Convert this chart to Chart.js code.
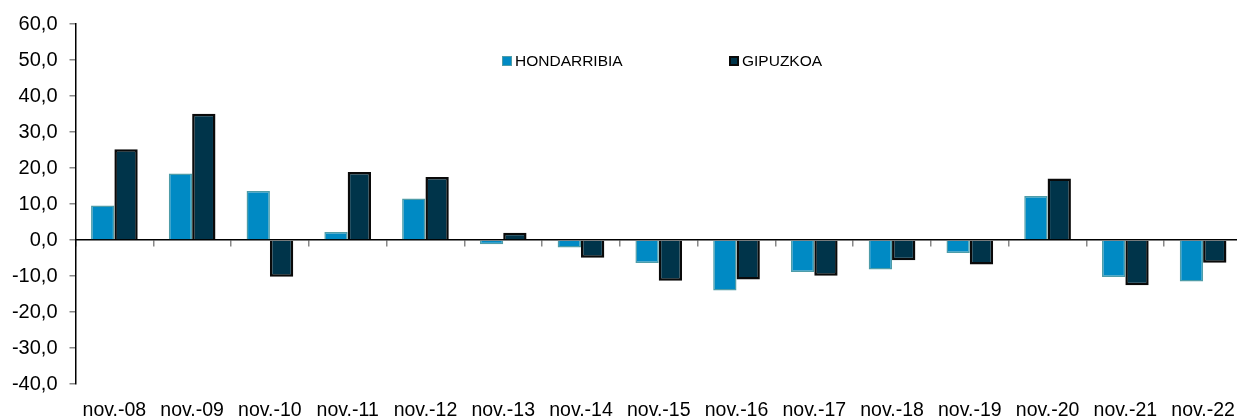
<!DOCTYPE html>
<html>
<head>
<meta charset="utf-8">
<script src="https://cdn.jsdelivr.net/npm/chart.js@4/dist/chart.umd.min.js"></script>
<style>
  html, body { margin: 0; padding: 0; background: #fff; overflow: hidden; }
  #wrap { position: relative; width: 1242px; height: 432px; }
  #legend { position: absolute; top: 0; left: 0; font-family: "Liberation Sans", Arial, sans-serif; font-size: 15.5px; color: #000; }
  .item { position: absolute; top: 52px; display: flex; align-items: center; white-space: nowrap; }
  .sw { width: 10px; height: 10px; box-sizing: border-box; margin-right: 3px; }
</style>
</head>
<body>
<div id="wrap">
  <canvas id="c" width="1242" height="432"></canvas>
  <div id="legend"></div>
</div>
<script>
const categories = ["nov.-08","nov.-09","nov.-10","nov.-11","nov.-12","nov.-13","nov.-14","nov.-15","nov.-16","nov.-17","nov.-18","nov.-19","nov.-20","nov.-21","nov.-22"];
const hondarribia = [9.6, 18.5, 13.6, 2.2, 11.5, -1.2, -2.1, -6.4, -14.0, -8.9, -8.2, -3.6, 12.2, -10.3, -11.5];
const gipuzkoa = [25.2, 35.1, -10.2, 18.9, 17.5, 2.0, -4.9, -11.3, -11.0, -9.9, -5.6, -6.8, 17.1, -12.6, -6.3];
const seriesNames = ["HONDARRIBIA", "GIPUZKOA"];
const yMin = -40, yMax = 60, yStep = 10;

const fillColors = ["#008AC4", "#00344A"];
const borderColors = ["#4E9CA8", "#0A0A0A"];

const fontFamily = '"Liberation Sans", Arial, sans-serif';

new Chart(document.getElementById('c'), {
  type: 'bar',
  data: {
    labels: categories,
    datasets: [
      { label: seriesNames[0], data: hondarribia, backgroundColor: fillColors[0], borderColor: borderColors[0], borderWidth: 1.5, barPercentage: 1.0, categoryPercentage: 0.6 },
      { label: seriesNames[1], data: gipuzkoa, backgroundColor: fillColors[1], borderColor: borderColors[1], borderWidth: 2.5, barPercentage: 1.0, categoryPercentage: 0.6 }
    ]
  },
  options: {
    responsive: false,
    animation: false,
    layout: { padding: { top: 24, left: 0, right: 0, bottom: 6 } },
    plugins: { legend: { display: false }, tooltip: { enabled: false } },
    scales: {
      x: {
        type: 'category',
        position: 'bottom',
        offset: true,
        grid: { display: false, drawTicks: true, tickLength: 14.5 },
        border: { display: false },
        ticks: { font: { family: fontFamily, size: 19.5 }, color: '#000', padding: 0, maxRotation: 0, autoSkip: false },
        afterFit: s => { s.height = 42; }
      },
      x2: {
        type: 'category',
        labels: categories,
        position: { y: 0 },
        offset: true,
        grid: { display: true, drawOnChartArea: false, drawTicks: true, tickLength: 6, offset: true, color: '#888', lineWidth: 1.5 },
        border: { display: true, color: '#000', width: 1.5 },
        ticks: { display: false }
      },
      y: {
        min: yMin, max: yMax,
        grid: { display: true, drawOnChartArea: false, drawTicks: true, tickLength: 6, color: '#888', lineWidth: 1.5 },
        border: { display: true, color: '#000', width: 1.5 },
        ticks: {
          stepSize: yStep,
          padding: 12,
          color: '#000',
          font: { family: fontFamily, size: 20 },
          callback: v => v.toFixed(1).replace('.', ',')
        },
        afterFit: s => { s.width = 75.5; }
      }
    }
  }
});

// HTML legend built from series names
const legendEl = document.getElementById('legend');
const legendX = [502, 729];
seriesNames.forEach((name, i) => {
  const it = document.createElement('div');
  it.className = 'item';
  it.style.left = legendX[i] + 'px';
  const sw = document.createElement('span');
  sw.className = 'sw';
  sw.style.background = fillColors[i];
  sw.style.border = (i === 0 ? '1.5px' : '2px') + ' solid ' + borderColors[i];
  const tx = document.createElement('span');
  tx.textContent = name;
  it.appendChild(sw);
  it.appendChild(tx);
  legendEl.appendChild(it);
});
</script>
</body>
</html>
